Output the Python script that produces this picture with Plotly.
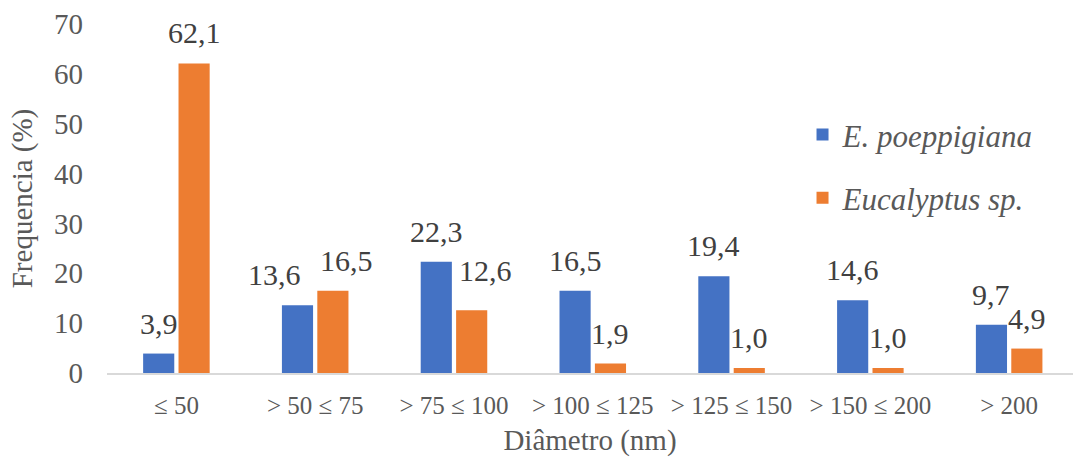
import plotly.graph_objects as go

# Diameter classes (nm)
categories = ["≤ 50", "> 50 ≤ 75", "> 75 ≤ 100", "> 100 ≤ 125",
              "> 125 ≤ 150", "> 150 ≤ 200", "> 200"]

# Frequency (%) per species
e_poeppigiana = [3.9, 13.6, 22.3, 16.5, 19.4, 14.6, 9.7]
eucalyptus = [62.1, 16.5, 12.6, 1.9, 1.0, 1.0, 4.9]

y_ticks = [0, 10, 20, 30, 40, 50, 60, 70]

series = [
    ("E. poeppigiana", e_poeppigiana, "#4472C4"),
    ("Eucalyptus sp.", eucalyptus, "#ED7D31"),
]

# hand-placed label nudges (series index, category index) -> (dx, dy) px
label_nudge = {(0, 1): (-23, 0), (1, 1): (14, 0), (1, 2): (14, 9)}

FONT = "Liberation Serif"
TXT = "#595959"
LBL = "#404040"

BARGAP = 0.49
fig = go.Figure()
for i, (name, vals, color) in enumerate(series):
    fig.add_trace(go.Bar(
        x=categories, y=vals, name=f"<i>{name}</i>",
        marker=dict(color=color, line=dict(width=0)),
        legendgroup=name,
    ))

# value labels above each bar, offset to the bar's slot within its group
slot = (1 - BARGAP) / len(series)
annotations = []
for i, (name, vals, color) in enumerate(series):
    offset = -(1 - BARGAP) / 2 + slot * (i + 0.5)
    for k, v in enumerate(vals):
        dx, dy = label_nudge.get((i, k), (0, 0))
        annotations.append(dict(
            x=k + offset, y=v, xref="x", yref="y",
            text=f"{v:.1f}".replace(".", ","),
            showarrow=False, yanchor="bottom",
            xshift=dx, yshift=12 + dy,
            font=dict(family=FONT, size=30, color=LBL),
        ))

fig.update_layout(
    template="none",
    width=1073, height=461,
    margin=dict(l=107, r=0, t=24, b=88),
    paper_bgcolor="white", plot_bgcolor="white",
    barmode="group", bargap=BARGAP, bargroupgap=0.12,
    font=dict(family=FONT, size=28, color=TXT),
    annotations=annotations,
    legend=dict(
        x=0.72, y=0.76, xanchor="left", yanchor="top",
        traceorder="grouped", tracegroupgap=20,
        font=dict(family=FONT, size=31, color=TXT),
        bgcolor="rgba(0,0,0,0)",
    ),
    xaxis=dict(
        type="category", range=[-0.5, 6.46],
        showline=True, linecolor="#D9D9D9", linewidth=1.5,
        showgrid=False, zeroline=False,
        ticks="", tickfont=dict(family=FONT, size=25, color=TXT),
        ticklabelstandoff=9,
        title=dict(text="Diâmetro (nm)", standoff=12,
                   font=dict(family=FONT, size=29, color=TXT)),
    ),
    yaxis=dict(
        range=[0, 70], tickvals=y_ticks,
        showgrid=False, zeroline=False, showline=False,
        ticks="", tickfont=dict(family=FONT, size=29, color=TXT),
        ticklabelstandoff=23,
        title=dict(text="Frequencia (%)", standoff=12,
                   font=dict(family=FONT, size=29, color=TXT)),
    ),
)

fig.write_html("out.html")
